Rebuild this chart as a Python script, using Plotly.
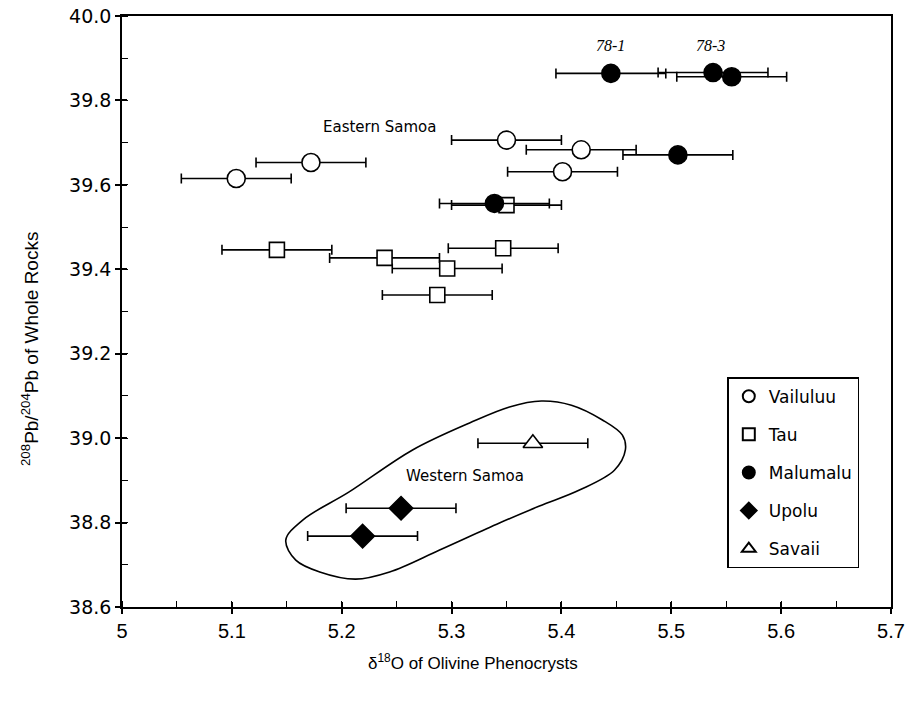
import plotly.graph_objects as go

# ---------------- data ----------------
vail_x = [5.104, 5.172, 5.350, 5.418, 5.401]
vail_y = [39.615, 39.653, 39.706, 39.683, 39.631]
vail_err = [0.05, 0.05, 0.05, 0.05, 0.05]

tau_x = [5.141, 5.239, 5.296, 5.287, 5.347, 5.350]
tau_y = [39.446, 39.427, 39.402, 39.339, 39.450, 39.552]
tau_err = [0.05, 0.05, 0.05, 0.05, 0.05, 0.05]

malu_x = [5.445, 5.538, 5.555, 5.506, 5.339]
malu_y = [39.864, 39.866, 39.856, 39.671, 39.556]
malu_err = [0.05, 0.05, 0.05, 0.05, 0.05]

upolu_x = [5.254, 5.219]
upolu_y = [38.834, 38.768]
upolu_err = [0.05, 0.05]

sav_x = [5.374]
sav_y = [38.988]
sav_err = [0.05]

# outline around the Western Samoa samples (data units)
loop_x = [5.380, 5.3436, 5.2891, 5.2436, 5.2127, 5.180, 5.1582, 5.1491, 5.1645,
          5.2064, 5.2645, 5.3164, 5.3527, 5.3818, 5.4091, 5.4373, 5.4555, 5.4582,
          5.4482, 5.4164, 5.380]
loop_y = [38.839, 38.799, 38.735, 38.683, 38.666, 38.683, 38.711, 38.7586, 38.806,
          38.872, 38.972, 39.036, 39.074, 39.088, 39.078, 39.043, 39.007, 38.972,
          38.924, 38.877, 38.839]

sample_labels = ["78-1", "78-3"]
sample_label_x = [5.445, 5.536]
sample_label_y = [39.931, 39.931]

x_ticks = [5, 5.1, 5.2, 5.3, 5.4, 5.5, 5.6, 5.7]
y_ticks = [38.6, 38.8, 39.0, 39.2, 39.4, 39.6, 39.8, 40.0]

FONT = "DejaVu Sans"
NARROW = "Liberation Sans Narrow, Liberation Sans, Arial"
BLACK = "#000000"

fig = go.Figure()

# loop outline
fig.add_trace(go.Scatter(x=loop_x, y=loop_y, mode="lines",
                         line=dict(color=BLACK, width=1.6, shape="spline", smoothing=1.0),
                         showlegend=False, hoverinfo="skip"))

def add_series(name, xs, ys, errs, symbol, size, fill, group):
    fig.add_trace(go.Scatter(
        x=xs, y=ys, mode="markers", name=name, legendgroup=group,
        error_x=dict(type="data", array=errs, visible=True, color=BLACK,
                     thickness=1.6, width=5),
        marker=dict(symbol=symbol, size=size, color=fill,
                    line=dict(color=BLACK, width=1.6)),
    ))

add_series("Vailuluu", vail_x, vail_y, vail_err, "circle", 18, "white", "g1")
add_series("Tau", tau_x, tau_y, tau_err, "square", 15, "white", "g2")
add_series("Malumalu", malu_x, malu_y, malu_err, "circle", 18, BLACK, "g3")
add_series("Upolu", upolu_x, upolu_y, upolu_err, "diamond", 18, BLACK, "g4")
add_series("Savaii", sav_x, sav_y, sav_err, "triangle-up", 17, "white", "g5")

# secondary overlay axes for inside half of crossing major ticks
fig.add_trace(go.Scatter(x=[5], y=[38.6], xaxis="x2", yaxis="y2", mode="markers",
                         marker=dict(opacity=0), showlegend=False, hoverinfo="skip"))

axis_common = dict(showgrid=False, zeroline=False, showline=True, linecolor=BLACK,
                   linewidth=1.6, mirror=True, ticks="outside", tickcolor=BLACK,
                   tickwidth=1.6, ticklen=5, automargin=False,
                   ticklabeloverflow="allow")

fig.update_layout(
    width=910, height=702,
    margin=dict(l=122, r=19, t=16, b=95),
    paper_bgcolor="white", plot_bgcolor="white",
    xaxis=dict(range=[5, 5.7], tickvals=x_ticks, ticktext=[str(v) for v in x_ticks],
               tickfont=dict(family=NARROW, size=20, color=BLACK),
               minor=dict(ticks="inside", dtick=0.05, tick0=5, ticklen=6,
                          tickcolor=BLACK, tickwidth=1.4),
               **axis_common),
    yaxis=dict(range=[38.6, 40.0], tickvals=y_ticks, ticktext=[f"{v:.1f}" for v in y_ticks],
               tickfont=dict(family=FONT, size=19, color=BLACK),
               minor=dict(ticks="inside", dtick=0.1, tick0=38.6, ticklen=6,
                          tickcolor=BLACK, tickwidth=1.4),
               **axis_common),
    xaxis2=dict(overlaying="x", matches="x", range=[5, 5.7], tickvals=x_ticks,
                showticklabels=False, ticks="inside", ticklen=5, tickwidth=1.6,
                tickcolor=BLACK, showgrid=False, zeroline=False, showline=False,
                automargin=False),
    yaxis2=dict(overlaying="y", matches="y", range=[38.6, 40.0], tickvals=y_ticks,
                showticklabels=False, ticks="inside", ticklen=5, tickwidth=1.6,
                tickcolor=BLACK, showgrid=False, zeroline=False, showline=False,
                automargin=False),
    legend=dict(x=0.787, y=0.389, xanchor="left", yanchor="top",
                bordercolor=BLACK, borderwidth=1.6, bgcolor="white",
                font=dict(family=FONT, size=17, color=BLACK),
                tracegroupgap=13, itemsizing="constant"),
    showlegend=True,
)

# axis titles
fig.add_annotation(xref="paper", yref="paper", x=0.4564, y=-0.093,
                   xanchor="center", yanchor="middle",
                   text="δ<sup>18</sup>O of Olivine Phenocrysts", showarrow=False,
                   font=dict(family=NARROW, size=17, color=BLACK))
fig.add_annotation(xref="paper", yref="paper", x=-0.1196, y=0.4365, textangle=-90,
                   xanchor="center", yanchor="middle",
                   text="<sup>208</sup>Pb/<sup>204</sup>Pb of Whole Rocks", showarrow=False,
                   font=dict(family=NARROW, size=19, color=BLACK))

for lab, lx, ly in zip(sample_labels, sample_label_x, sample_label_y):
    fig.add_annotation(x=lx, y=ly, text=lab, showarrow=False,
                       font=dict(family="Liberation Serif", size=16, color=BLACK, style="italic"))

fig.add_annotation(x=5.2345, y=39.737, text="Eastern Samoa", showarrow=False,
                   font=dict(family=FONT, size=15, color=BLACK))
fig.add_annotation(x=5.312, y=38.91, text="Western Samoa", showarrow=False,
                   font=dict(family=FONT, size=15, color=BLACK))

# remove the default 8px page margin so the figure fills the window exactly
fig.write_html("out.html", config={"displayModeBar": False},
               post_script="document.body.style.margin='0';")
